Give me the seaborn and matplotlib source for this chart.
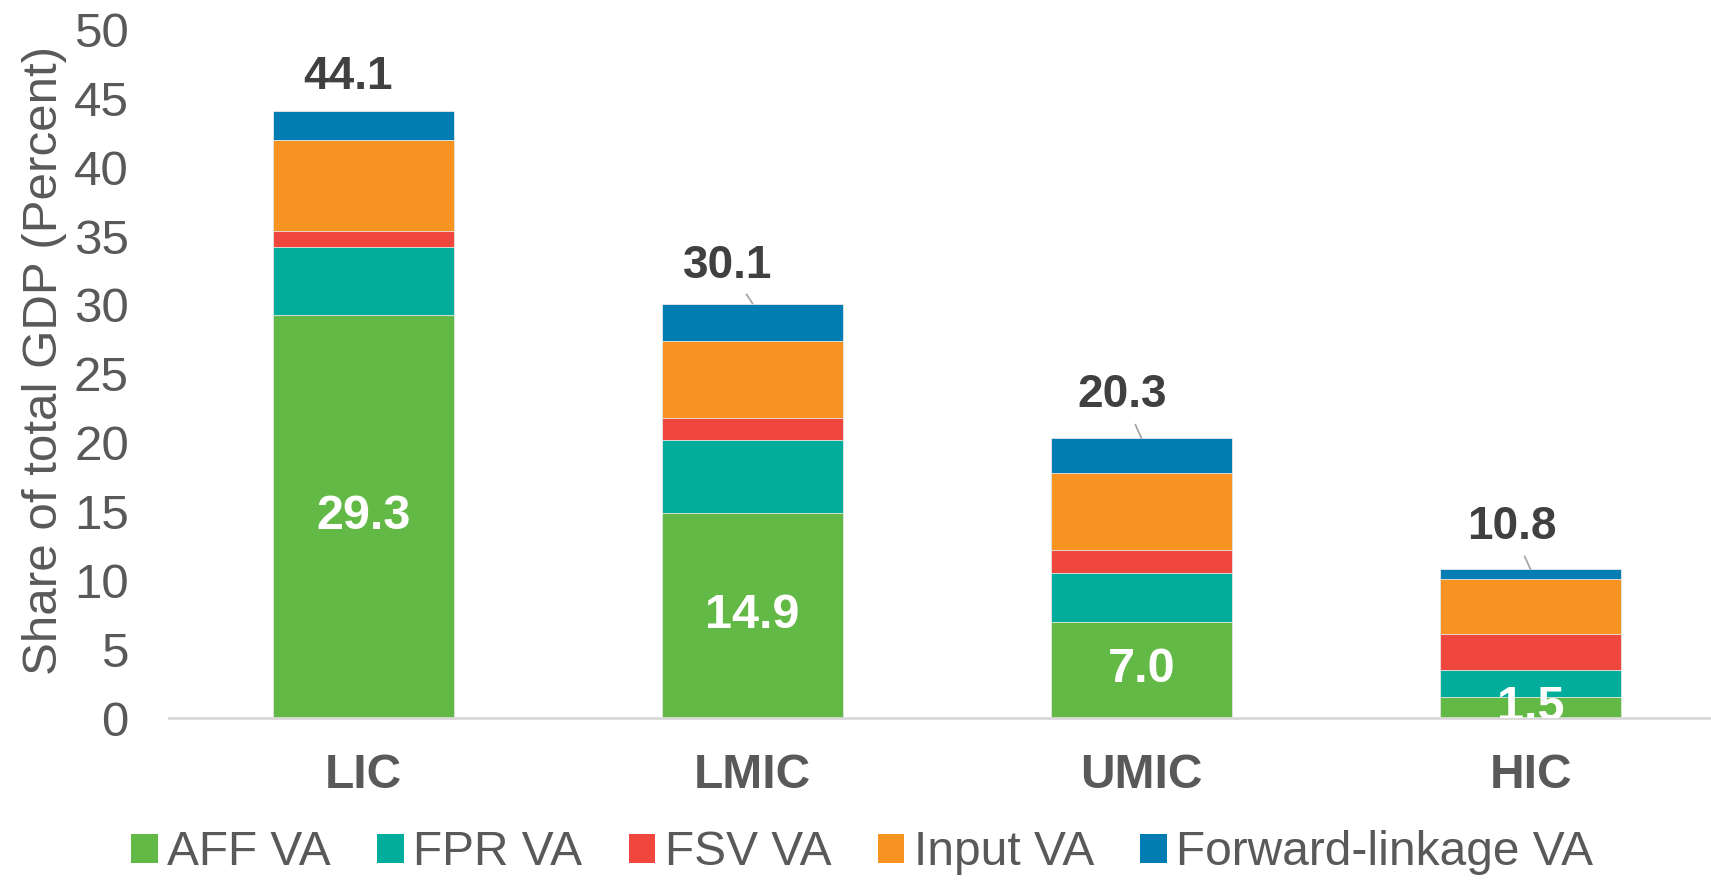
import matplotlib

matplotlib.use("Agg")

import matplotlib.pyplot as plt
import pandas as pd
import seaborn as sns
from matplotlib.patches import Patch

categories = ["LIC", "LMIC", "UMIC", "HIC"]
series_names = ["AFF VA", "FPR VA", "FSV VA", "Input VA", "Forward-linkage VA"]
aff_va = [29.3, 14.9, 7.0, 1.5]
fpr_va = [4.9, 5.3, 3.5, 2.0]
fsv_va = [1.2, 1.6, 1.7, 2.6]
input_va = [6.6, 5.6, 5.6, 4.0]
forward_va = [2.1, 2.7, 2.5, 0.7]
totals = [44.1, 30.1, 20.3, 10.8]
colors = ["#62B946", "#02AE9B", "#EF463E", "#F69321", "#017DB4"]

# label offsets (pixels) of the total labels relative to the bar tops
total_offsets = [(-16, 34), (-25, 38), (-19, 43), (-19, 42)]

sns.set_theme(style="white")
plt.rcParams["font.family"] = ["Liberation Sans", "DejaVu Sans"]

grey = "#595959"
dark = "#404040"

frame = pd.DataFrame({"category": categories})
series = [aff_va, fpr_va, fsv_va, input_va, forward_va]
cum = [0.0] * len(categories)
for name, vals in zip(series_names, series):
    cum = [c + v for c, v in zip(cum, vals)]
    frame[name] = cum

fig = plt.figure(figsize=(17.11, 8.81), dpi=100)
ax = fig.add_axes([0.0988, 0.185, 0.9012, 0.7815])

# draw cumulative stacks from the top segment down
for name, color in reversed(list(zip(series_names, colors))):
    sns.barplot(data=frame, x="category", y=name, color=color, width=0.465,
                edgecolor="#e8e8e8", linewidth=0.6, saturation=1, ax=ax)

ax.set_xlim(-0.5, 3.464)
ax.set_ylim(0, 50)
ax.set_yticks(range(0, 51, 5))
ax.tick_params(axis="y", labelsize=35.5, labelcolor=grey, length=0, pad=29)
ax.tick_params(axis="x", labelsize=34.5, labelcolor=grey, length=0, pad=25)
for lab in ax.get_xticklabels():
    lab.set_fontweight("bold")
ax.set_xlabel("")
ax.set_ylabel("Share of total GDP (Percent)", fontsize=35.5, color=grey, labelpad=5)
ax.yaxis.label.set_y(0.519)

for side in ["top", "right", "left"]:
    ax.spines[side].set_visible(False)
ax.spines["bottom"].set_color("#d9d9d9")
ax.spines["bottom"].set_linewidth(2)

for i, (total, off) in enumerate(zip(totals, total_offsets)):
    arrow = None if i == 0 else dict(arrowstyle="-", color="#a6a6a6", lw=1.3, shrinkA=3, shrinkB=0)
    ax.annotate(f"{total:.1f}", xy=(i, total), xytext=off, textcoords="offset pixels",
                ha="center", va="center", fontsize=33, fontweight="bold", color=dark,
                arrowprops=arrow)

for i, v in enumerate(aff_va):
    ax.text(i, v / 2, f"{v:.1f}", ha="center", va="center", fontsize=35,
            fontweight="bold", color="white", clip_on=True)

handles = [Patch(facecolor=c, edgecolor="none") for c in colors]
fig.legend(handles, series_names, loc="center", bbox_to_anchor=(0.504, 0.032), ncol=5,
           frameon=False, fontsize=34.5, labelcolor=grey, handlelength=0.55,
           handleheight=0.55, handletextpad=0.2, columnspacing=0.97, borderpad=0)

fig.savefig("out.png", dpi=100)
